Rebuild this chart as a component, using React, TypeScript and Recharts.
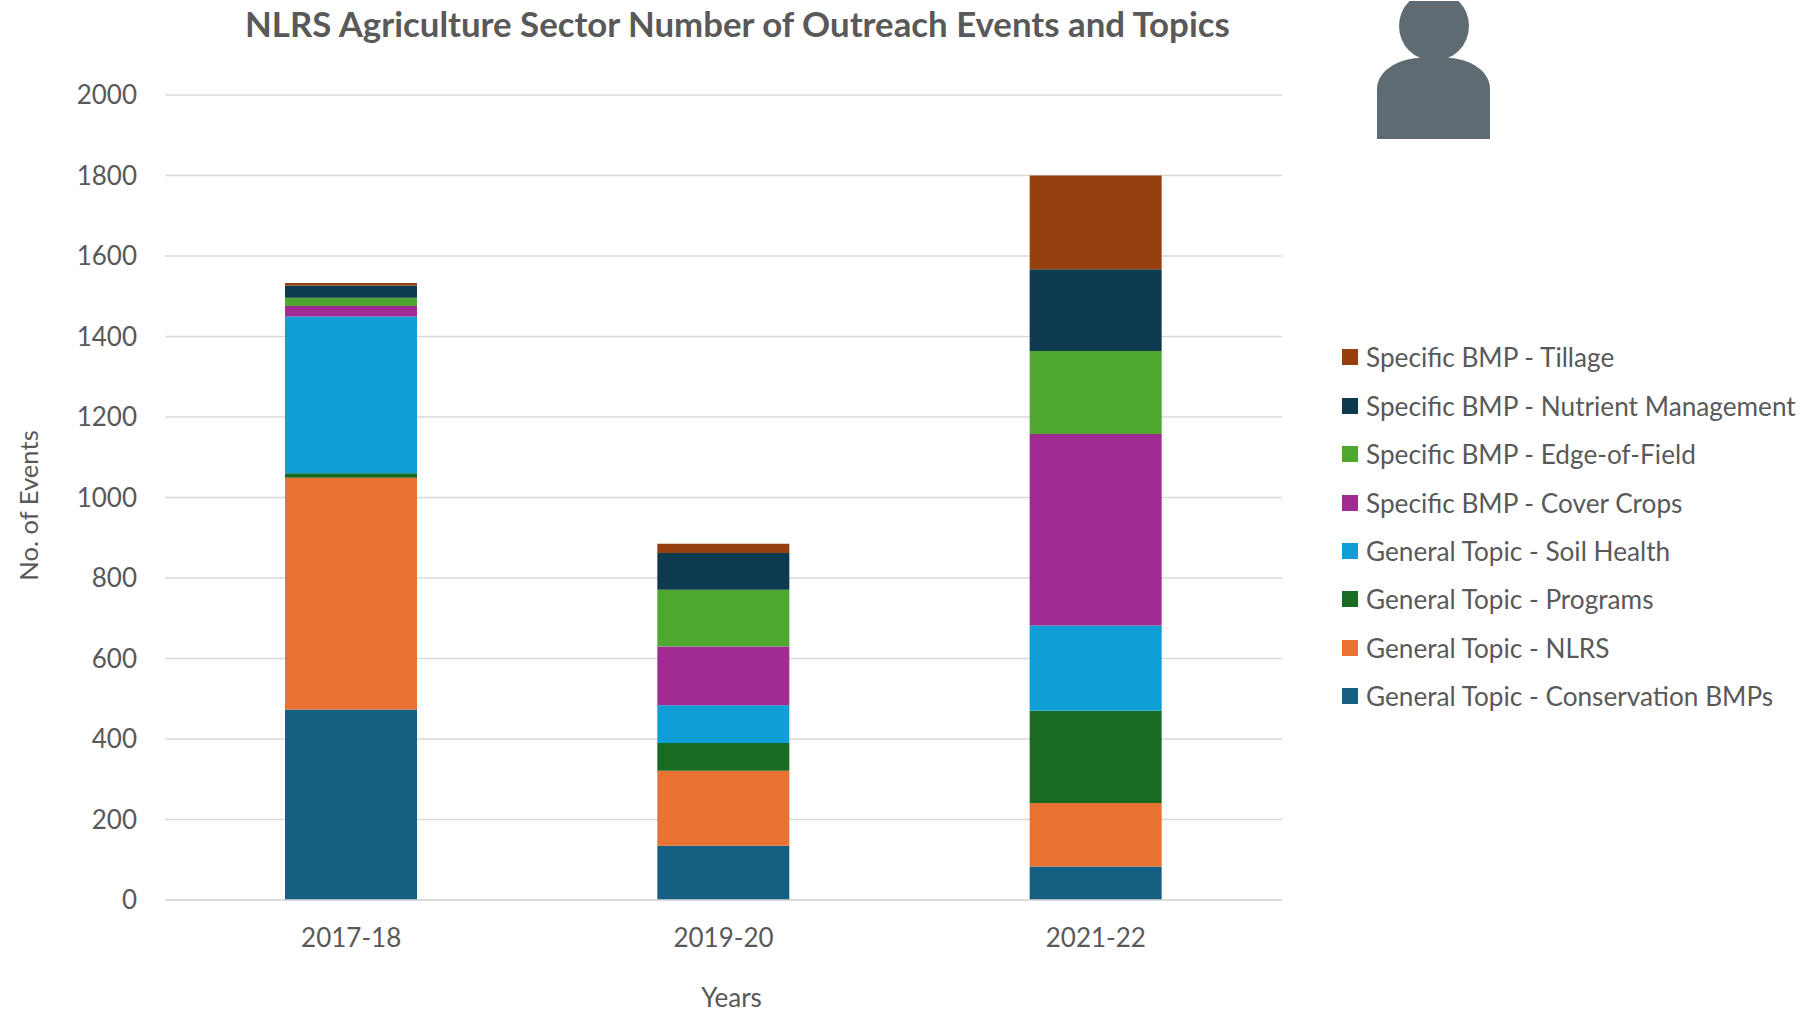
import { BarChart, Bar, XAxis, YAxis, CartesianGrid, Legend } from 'recharts'

const years = ['2017-18', '2019-20', '2021-22']
const conservationBmps = [473, 135, 83]
const nlrs = [576, 186, 158]
const programs = [11, 69, 229]
const soilHealth = [390, 94, 212]
const coverCrops = [26, 146, 476]
const edgeOfField = [20, 141, 206]
const nutrientMgmt = [31, 91, 203]
const tillage = [6, 23, 233]
const yTicks = [0, 200, 400, 600, 800, 1000, 1200, 1400, 1600, 1800, 2000]

const data = years.map((year, i) => ({
  year,
  conservationBmps: conservationBmps[i],
  nlrs: nlrs[i],
  programs: programs[i],
  soilHealth: soilHealth[i],
  coverCrops: coverCrops[i],
  edgeOfField: edgeOfField[i],
  nutrientMgmt: nutrientMgmt[i],
  tillage: tillage[i],
}))

const SERIES = [
  { key: 'conservationBmps', name: 'General Topic - Conservation BMPs', color: '#156082' },
  { key: 'nlrs', name: 'General Topic - NLRS', color: '#E97132' },
  { key: 'programs', name: 'General Topic - Programs', color: '#196B24' },
  { key: 'soilHealth', name: 'General Topic - Soil Health', color: '#0F9ED5' },
  { key: 'coverCrops', name: 'Specific BMP - Cover Crops', color: '#A02B93' },
  { key: 'edgeOfField', name: 'Specific BMP - Edge-of-Field', color: '#4EA72E' },
  { key: 'nutrientMgmt', name: 'Specific BMP - Nutrient Management', color: '#0E3A50' },
  { key: 'tillage', name: 'Specific BMP - Tillage', color: '#95400E' },
]

const FONT = 'Lato, sans-serif'
const TEXT = '#595959'

// legend runs top-down from the last series, like the stack
function renderLegend() {
  return (
    <div style={{ fontFamily: FONT }}>
      {[...SERIES].reverse().map((s) => (
        <div key={s.key} style={{ display: 'flex', alignItems: 'center', height: 48.45 }}>
          <span style={{ width: 16, height: 16, background: s.color, marginRight: 8 }} />
          <span style={{ fontSize: 26.2, color: TEXT, whiteSpace: 'nowrap' }}>{s.name}</span>
        </div>
      ))}
    </div>
  )
}

export default function App() {
  return (
    <div style={{ position: 'absolute', left: 0, top: 0, width: 1806, height: 1013, overflow: 'hidden', background: '#fff' }}>
      <div
        style={{
          position: 'absolute',
          top: 3,
          left: 245,
          width: 984,
          textAlign: 'center',
          fontFamily: FONT,
          fontSize: 34.8,
          fontWeight: 700,
          color: TEXT,
          whiteSpace: 'nowrap',
        }}
      >
        NLRS Agriculture Sector Number of Outreach Events and Topics
      </div>
      <svg width={130} height={145} viewBox="0 0 130 145" style={{ position: 'absolute', left: 1368, top: 1 }}>
        <circle cx={66} cy={25} r={35} fill="#5F6B73" />
        <path d="M9 138 L9 88 C9 70 30 58 50 57 L82 57 C102 58 122 70 122 88 L122 138 Z" fill="#5F6B73" />
      </svg>
      <BarChart
        width={1806}
        height={1013}
        data={data}
        margin={{ top: 95, right: 59, left: 105, bottom: 0 }}
        barSize={132}
      >
        <CartesianGrid horizontal vertical={false} stroke="#D9D9D9" strokeWidth={1.5} />
        <XAxis
          dataKey="year"
          height={113}
          tickSize={0}
          tickMargin={29}
          axisLine={{ stroke: '#D9D9D9', strokeWidth: 1.5 }}
          tickLine={false}
          tick={{ fill: TEXT, fontSize: 26, fontFamily: FONT }}
          label={{ value: 'Years', position: 'center', dx: 8, dy: 41, fill: TEXT, fontSize: 26, fontFamily: FONT }}
        />
        <YAxis
          width={60}
          domain={[0, 2000]}
          ticks={yTicks}
          tickSize={0}
          tickMargin={28}
          axisLine={false}
          tickLine={false}
          interval={0}
          tick={{ fill: TEXT, fontSize: 26, fontFamily: FONT }}
          label={{ value: 'No. of Events', angle: -90, position: 'center', dx: -106, dy: 8, fill: TEXT, fontSize: 25.6, fontFamily: FONT }}
        />
        <Legend
          layout="vertical"
          align="right"
          verticalAlign="top"
          content={renderLegend}
          wrapperStyle={{ left: 1342, top: 333, width: 465, right: 'auto' }}
        />
        {SERIES.map((s) => (
          <Bar key={s.key} dataKey={s.key} name={s.name} stackId="a" fill={s.color} isAnimationActive={false} />
        ))}
      </BarChart>
    </div>
  )
}
